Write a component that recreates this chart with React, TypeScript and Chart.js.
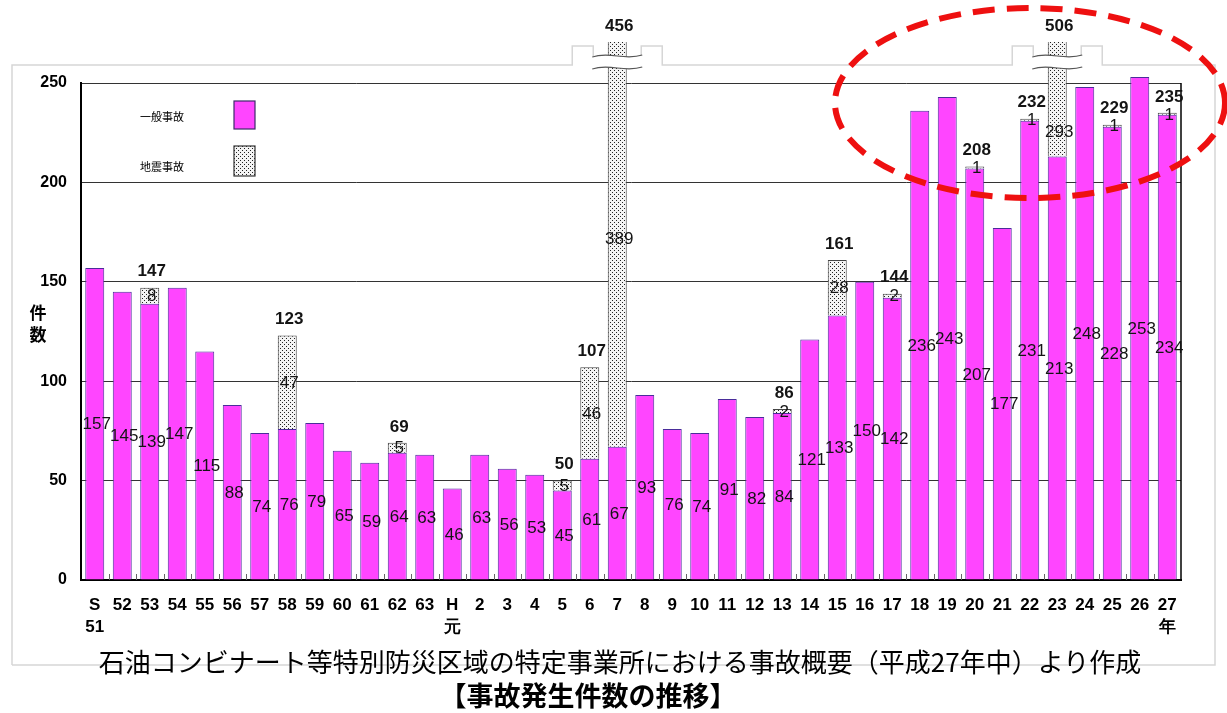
import React, { useEffect, useRef } from "react";
import { Chart, registerables } from "chart.js";

Chart.register(...registerables);

// ---- data ----
const categories: (string | string[])[] = [
  ["S", "51"], "52", "53", "54", "55", "56", "57", "58", "59", "60", "61", "62", "63",
  ["H", "元"], "2", "3", "4", "5", "6", "7", "8", "9", "10", "11", "12", "13", "14",
  "15", "16", "17", "18", "19", "20", "21", "22", "23", "24", "25", "26", ["27", "年"],
];

const generalAccidents = [
  157, 145, 139, 147, 115, 88, 74, 76, 79, 65, 59, 64, 63,
  46, 63, 56, 53, 45, 61, 67, 93, 76, 74, 91, 82, 84, 121,
  133, 150, 142, 236, 243, 207, 177, 231, 213, 248, 228, 253, 234,
];

const earthquakeAccidents = [
  0, 0, 8, 0, 0, 0, 0, 47, 0, 0, 0, 5, 0,
  0, 0, 0, 0, 5, 46, 389, 0, 0, 0, 0, 0, 2, 0,
  28, 0, 2, 0, 0, 1, 0, 1, 293, 0, 1, 0, 1,
];

const yTicks = [0, 50, 100, 150, 200, 250];

const seriesNames = ["一般事故", "地震事故"];

const MAGENTA = "#ff45ff";
const OVERFLOW = 41;
const NUM_FONT = "'Liberation Sans', Arial, sans-serif";

function makeDotPattern(): CanvasPattern | string {
  const c = document.createElement("canvas");
  c.width = 4;
  c.height = 4;
  const g = c.getContext("2d");
  if (!g) return "#ccc";
  g.fillStyle = "#f4f4f4";
  g.fillRect(0, 0, 4, 4);
  g.fillStyle = "#222";
  g.fillRect(0, 0, 1, 1);
  g.fillRect(2, 2, 1, 1);
  const p = g.createPattern(c, "repeat");
  return p || "#ccc";
}

function wave(ctx: CanvasRenderingContext2D, x0: number, x1: number, y: number) {
  const w = x1 - x0;
  ctx.moveTo(x0, y + 1);
  ctx.bezierCurveTo(x0 + w * 0.35, y - 5, x0 + w * 0.65, y + 5, x1, y - 1);
}

export default function App() {
  const ref = useRef<HTMLCanvasElement | null>(null);

  useEffect(() => {
    if (!ref.current) return;
    const dots = makeDotPattern();
    const totals = generalAccidents.map((g, i) => g + earthquakeAccidents[i]);

    const decor = {
      id: "decor",
      beforeDraw(chart: any) {
        const ctx: CanvasRenderingContext2D = chart.ctx;
        const ca = chart.chartArea;
        const xs = chart.scales.x;
        const ys = chart.scales.y;
        const limit = ys.getValueForPixel(ca.top - OVERFLOW);
        ctx.save();
        ctx.fillStyle = "#fff";
        ctx.fillRect(0, 0, chart.width, chart.height);
        ctx.strokeStyle = "#d6d6d6";
        ctx.lineWidth = 1.5;
        ctx.beginPath();
        ctx.moveTo(12, 665);
        ctx.lineTo(12, 65);
        totals.forEach((t, i) => {
          if (t > limit) {
            const cx = xs.getPixelForValue(i);
            ctx.lineTo(cx - 45, 65);
            ctx.lineTo(cx - 45, 46);
            ctx.lineTo(cx - 24, 46);
            ctx.lineTo(cx - 24, 56);
            ctx.moveTo(cx + 24, 56);
            ctx.lineTo(cx + 24, 46);
            ctx.lineTo(cx + 45, 46);
            ctx.lineTo(cx + 45, 65);
          }
        });
        ctx.lineTo(1215, 65);
        ctx.lineTo(1215, 665);
        ctx.lineTo(12, 665);
        ctx.stroke();
        ctx.restore();
      },
      afterDatasetsDraw(chart: any) {
        const ctx: CanvasRenderingContext2D = chart.ctx;
        const ca = chart.chartArea;
        const xs = chart.scales.x;
        const ys = chart.scales.y;
        const limit = ys.getValueForPixel(ca.top - OVERFLOW);
        const m0 = chart.getDatasetMeta(0);
        const m1 = chart.getDatasetMeta(1);
        ctx.save();
        ctx.strokeStyle = "#000";
        ctx.lineWidth = 1.5;
        ctx.beginPath();
        ctx.moveTo(ca.right, ca.top);
        ctx.lineTo(ca.right, ca.bottom);
        ctx.stroke();
        ctx.strokeStyle = "#666";
        ctx.lineWidth = 1;
        const n = categories.length;
        for (let i = 1; i < n; i++) {
          const x = Math.round(ca.left + (i * ca.width) / n) + 0.5;
          ctx.beginPath();
          ctx.moveTo(x, ca.bottom);
          ctx.lineTo(x, ca.bottom - 6);
          ctx.stroke();
        }
        totals.forEach((t, i) => {
          if (t > limit) {
            const cx = xs.getPixelForValue(i);
            const x0 = cx - 25;
            const x1 = cx + 25;
            ctx.fillStyle = "#fff";
            ctx.beginPath();
            wave(ctx, x0, x1, 56);
            ctx.lineTo(x1, 67);
            ctx.bezierCurveTo(x1 - 50 * 0.35, 73, x1 - 50 * 0.65, 63, x0, 69);
            ctx.closePath();
            ctx.fill();
            ctx.strokeStyle = "#555";
            ctx.lineWidth = 1.2;
            ctx.beginPath();
            wave(ctx, x0, x1, 56);
            ctx.stroke();
            ctx.beginPath();
            wave(ctx, x0, x1, 68);
            ctx.stroke();
          }
        });
        ctx.textAlign = "center";
        ctx.textBaseline = "middle";
        ctx.fillStyle = "#141414";
        generalAccidents.forEach((v, i) => {
          const el = m0.data[i];
          ctx.font = `17px ${NUM_FONT}`;
          ctx.fillText(String(v), el.x + 2, (el.y + el.base) / 2 + 1);
        });
        earthquakeAccidents.forEach((v, i) => {
          if (!v) return;
          const el = m1.data[i];
          const top = Math.max(el.y, ca.top - OVERFLOW);
          const broken = totals[i] > limit;
          const mid = (top + el.base) / 2;
          const labelY = broken && el.base < ca.top + 120 ? el.base - 24 : mid - (broken ? 5 : -1);
          ctx.font = `17px ${NUM_FONT}`;
          ctx.fillText(String(v), el.x + 2, labelY);
          ctx.font = `bold 17px ${NUM_FONT}`;
          ctx.fillText(String(totals[i]), el.x + 2, top - 16);
        });
        ctx.font = "bold 17px 'Noto Sans CJK JP', sans-serif";
        ctx.fillStyle = "#000";
        ctx.fillText("件", 38, 313);
        ctx.fillText("数", 38, 335);
        ctx.font = "11px 'Noto Sans CJK JP', sans-serif";
        ctx.textAlign = "left";
        ctx.fillText(seriesNames[0], 140, 117);
        ctx.fillText(seriesNames[1], 140, 167);
        ctx.fillStyle = MAGENTA;
        ctx.fillRect(234, 101, 21, 28);
        ctx.strokeStyle = "#3d2a6a";
        ctx.lineWidth = 1.2;
        ctx.strokeRect(234, 101, 21, 28);
        ctx.fillStyle = dots as any;
        ctx.fillRect(234, 146, 21, 30);
        ctx.strokeStyle = "#333";
        ctx.strokeRect(234, 146, 21, 30);
        ctx.restore();
      },
      afterDraw(chart: any) {
        const ctx: CanvasRenderingContext2D = chart.ctx;
        ctx.save();
        ctx.strokeStyle = "#ee1010";
        ctx.lineWidth = 6;
        ctx.setLineDash([22, 12]);
        ctx.beginPath();
        ctx.ellipse(1030, 103, 195, 95, 0, 0, Math.PI * 2);
        ctx.stroke();
        ctx.restore();
      },
    };

    const clip = { left: false, right: false, bottom: false, top: OVERFLOW } as any;

    const chart = new Chart(ref.current, {
      type: "bar",
      data: {
        labels: categories as any,
        datasets: [
          {
            label: seriesNames[0],
            data: generalAccidents,
            backgroundColor: MAGENTA,
            borderColor: "#4a2d9a",
            borderWidth: 1,
            barPercentage: 0.69,
            categoryPercentage: 1,
            clip,
          },
          {
            label: seriesNames[1],
            data: earthquakeAccidents,
            backgroundColor: dots as any,
            borderColor: "#444",
            borderWidth: 1,
            barPercentage: 0.69,
            categoryPercentage: 1,
            clip,
          },
        ],
      },
      options: {
        animation: false,
        responsive: true,
        maintainAspectRatio: false,
        layout: { padding: { left: 0, right: 46, top: 83, bottom: 73 } },
        plugins: { legend: { display: false }, tooltip: { enabled: false } },
        scales: {
          x: {
            stacked: true,
            grid: { display: false },
            border: { display: true, color: "#000", width: 2 },
            ticks: {
              autoSkip: false,
              maxRotation: 0,
              color: "#000",
              padding: 7,
              font: { family: NUM_FONT, size: 17, weight: "bold", lineHeight: 1.25 },
            },
            afterFit(s: any) {
              s.height = 60;
            },
          },
          y: {
            stacked: true,
            min: 0,
            max: 250,
            afterBuildTicks(s: any) {
              s.ticks = yTicks.map((v) => ({ value: v }));
            },
            grid: { color: "#333", lineWidth: 1, drawTicks: false },
            border: { display: true, color: "#000", width: 2 },
            ticks: {
              color: "#000",
              padding: 14,
              font: { family: NUM_FONT, size: 16, weight: "bold" },
            },
            afterFit(s: any) {
              s.width = 81;
            },
          },
        },
      },
      plugins: [decor],
    } as any);

    return () => chart.destroy();
  }, []);

  return (
    <div style={{ position: "absolute", left: 0, top: 0, width: 1227, height: 713, background: "#fff" }}>
      <div style={{ position: "absolute", left: 0, top: 0, width: 1227, height: 713 }}>
        <canvas ref={ref} />
      </div>
      <div
        style={{
          position: "absolute",
          left: 60,
          width: 1120,
          top: 645,
          textAlign: "center",
          fontFamily: "'Noto Sans CJK JP', sans-serif",
          fontSize: 26,
          lineHeight: "32px",
          color: "#000",
          whiteSpace: "nowrap",
        }}
      >
        石油コンビナート等特別防災区域の特定事業所における事故概要（平成27年中）より作成
      </div>
      <div
        style={{
          position: "absolute",
          left: 388,
          width: 400,
          top: 679,
          textAlign: "center",
          fontFamily: "'Noto Sans CJK JP', sans-serif",
          fontWeight: "bold",
          fontSize: 27,
          lineHeight: "32px",
          color: "#000",
          whiteSpace: "nowrap",
        }}
      >
        【事故発生件数の推移】
      </div>
    </div>
  );
}
